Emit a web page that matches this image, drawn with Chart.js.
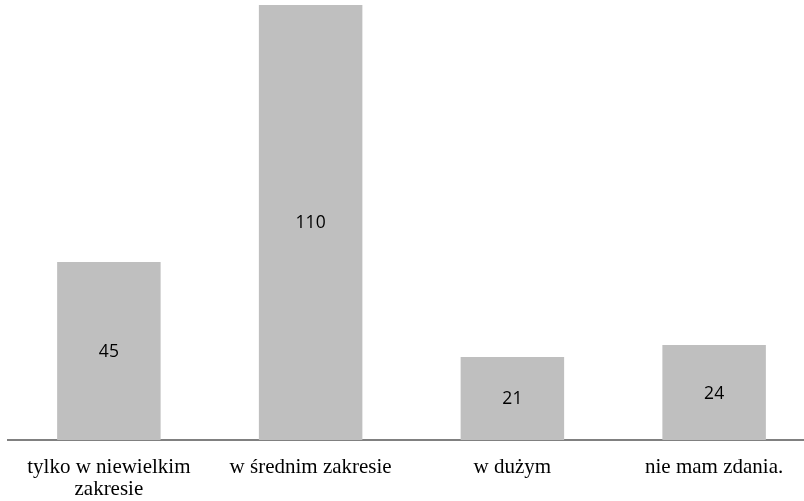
<!DOCTYPE html>
<html>
<head>
<meta charset="utf-8">
<script src="https://cdn.jsdelivr.net/npm/chart.js@4/dist/chart.umd.min.js"></script>
<style>
  html, body { margin: 0; padding: 0; background: #fff; overflow: hidden; }
  #wrap { width: 804px; height: 501px; overflow: hidden; }
</style>
</head>
<body>
<div id="wrap"><canvas id="chart" width="815" height="501"></canvas></div>
<script>
// Categories and counts
const categories = [['tylko w niewielkim', 'zakresie'], 'w średnim zakresie', 'w dużym', 'nie mam zdania.'];
const counts = [45, 110, 21, 24];

// Draw the count in the middle of each bar
const barValues = {
    id: 'barValues',
    afterDatasetsDraw(chart) {
        const ctx = chart.ctx;
        const meta = chart.getDatasetMeta(0);
        ctx.save();
        ctx.font = '17.5px "Open Sans", sans-serif';
        ctx.fillStyle = '#000';
        ctx.textAlign = 'center';
        ctx.textBaseline = 'middle';
        meta.data.forEach((bar, i) => {
            const mid = (bar.y + bar.base) / 2 + 1;
            ctx.fillText(String(counts[i]), bar.x, mid);
        });
        ctx.restore();
    }
};

const ctx = document.getElementById('chart').getContext('2d');
new Chart(ctx, {
    type: 'bar',
    data: {
        labels: categories,
        datasets: [{
            data: counts,
            backgroundColor: '#bfbfbf',
            borderWidth: 0,
            categoryPercentage: 1,
            barPercentage: 0.513
        }]
    },
    options: {
        responsive: false,
        animation: false,
        layout: { padding: { left: 8, right: 0, top: 5, bottom: 0 } },
        plugins: {
            legend: { display: false },
            tooltip: { enabled: false }
        },
        scales: {
            x: {
                grid: { display: false, drawTicks: false },
                border: { display: true, color: '#808080', width: 2 },
                ticks: {
                    color: '#000',
                    font: { family: '"Liberation Serif", "Times New Roman", serif', size: 21, lineHeight: 1.05 },
                    padding: 16,
                    maxRotation: 0,
                    autoSkip: false
                },
                afterFit: (scale) => { scale.height = 61; }
            },
            y: {
                display: false,
                min: 0,
                max: 110
            }
        }
    },
    plugins: [barValues]
});
</script>
</body>
</html>
